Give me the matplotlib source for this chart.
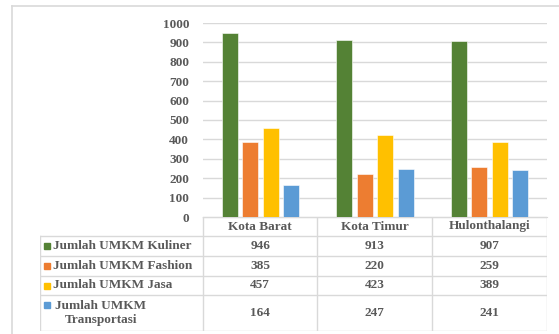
import matplotlib.pyplot as plt
from matplotlib.lines import Line2D

plt.rcParams["font.family"] = ["Liberation Serif", "DejaVu Serif"]
plt.rcParams["font.weight"] = "bold"

categories = ["Kota Barat", "Kota Timur", "Hulonthalangi"]
series_names = ["Jumlah UMKM Kuliner", "Jumlah UMKM Fashion", "Jumlah UMKM Jasa",
                "Jumlah UMKM\nTransportasi"]
kuliner = [946, 913, 907]
fashion = [385, 220, 259]
jasa = [457, 423, 389]
transportasi = [164, 247, 241]
series = [kuliner, fashion, jasa, transportasi]
colors = ["#548235", "#ED7D31", "#FFC000", "#5B9BD5"]
yticks = list(range(0, 1001, 100))

W, H = 559, 334
TXT = "#595959"
GRID = "#D9D9D9"
FS = 9.5


def rect(x0, y0, x1, y1):
    # pixel box (top-left origin) -> figure fractions
    return [x0 / W, 1 - y1 / H, (x1 - x0) / W, (y1 - y0) / H]


fig = plt.figure(figsize=(W / 100, H / 100), dpi=100)

# outer frame
fig.add_artist(Line2D([12 / W, 12 / W], [0, 1 - 6 / H], color=GRID, lw=1.2))
fig.add_artist(Line2D([12 / W, 1], [1 - 6 / H, 1 - 6 / H], color=GRID, lw=1.2))

# chart
ax = fig.add_axes(rect(203, 23, 547, 217))
bw, step = 0.14, 0.178
for i, (vals, c) in enumerate(zip(series, colors)):
    xs = [j + 0.5 + (i - 1.5) * step for j in range(len(categories))]
    ax.bar(xs, vals, width=bw, color=c, edgecolor="white", linewidth=0.4, zorder=3)
ax.set_xlim(0, 3)
ax.set_ylim(0, 1000)
ax.set_yticks(yticks)
ax.set_xticks([])
ax.yaxis.grid(True, color=GRID, lw=1, zorder=0)
for s in ["top", "right", "left"]:
    ax.spines[s].set_visible(False)
ax.spines["bottom"].set_color(GRID)
ax.tick_params(axis="y", length=0, pad=10, labelcolor=TXT, labelsize=FS)
for lab in ax.get_yticklabels():
    lab.set_fontweight("bold")

# data table
left = -163 / 115
rows = [0, 19, 39, 59, 78, 114]
tax = fig.add_axes(rect(40, 217, 547, 331))
tax.set_xlim(left, 3)
tax.set_ylim(rows[-1], 0)
tax.axis("off")
for k, y in enumerate(rows):
    tax.add_line(Line2D([0 if k == 0 else left, 3], [y, y], color=GRID, lw=1))
tax.add_line(Line2D([left, left], [rows[1], rows[-1]], color=GRID, lw=1))
for x in range(4):
    tax.add_line(Line2D([x, x], [0, rows[-1]], color=GRID, lw=1))

for j, cat in enumerate(categories):
    tax.text(j + 0.5, (rows[0] + rows[1]) / 2, cat, ha="center", va="center",
             color=TXT, fontsize=FS, fontweight="bold")

for i, (name, vals, c) in enumerate(zip(series_names, series, colors)):
    yc = (rows[i + 1] + rows[i + 2]) / 2
    if "\n" in name:
        tax.plot([left + 7 / 115], [yc - 8], marker="s", ms=4.5, color=c, lw=0)
        tax.text(left + 61 / 115, yc, name, ha="center", va="center", color=TXT,
                 fontsize=FS, fontweight="bold", linespacing=1.3)
    else:
        tax.plot([left + 7 / 115], [yc], marker="s", ms=4.5, color=c, lw=0)
        tax.text(left + 13 / 115, yc, name, ha="left", va="center", color=TXT,
                 fontsize=FS, fontweight="bold")
    for j, v in enumerate(vals):
        tax.text(j + 0.5, yc, str(v), ha="center", va="center", color=TXT,
                 fontsize=FS, fontweight="bold")

fig.savefig("out.png", dpi=100)
